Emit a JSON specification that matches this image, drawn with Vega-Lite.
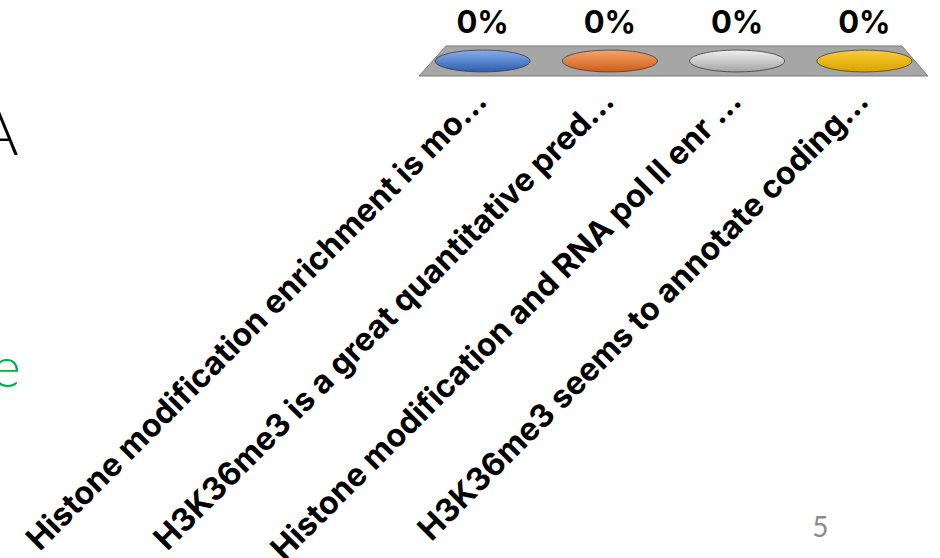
{
  "$schema": "https://vega.github.io/schema/vega-lite/v6.json",
  "width": 940,
  "height": 558,
  "autosize": {"type": "none"},
  "padding": 0,
  "background": "white",
  "config": {"view": {"stroke": null}},
  "datasets": {
    "poll": [
      {"option": 1, "label": "Histone modification enrichment is mo…", "pct": 0},
      {"option": 2, "label": "H3K36me3 is a great quantitative pred…", "pct": 0},
      {"option": 3, "label": "Histone modification and RNA pol II enr …", "pct": 0},
      {"option": 4, "label": "H3K36me3 seems to annotate coding…", "pct": 0}
    ]
  },
  "data": {"name": "poll"},
  "encoding": {
    "x": {"field": "option", "type": "ordinal", "scale": {"type": "band", "range": [419, 928], "paddingInner": 0, "paddingOuter": 0}, "axis": null},
    "y": {"field": "pct", "type": "quantitative", "scale": {"domain": [0, 1], "range": [61, 0]}, "axis": null}
  },
  "layer": [
    {
      "transform": [{"filter": "datum.option == 2"}],
      "mark": {"type": "point", "shape": "M -0.515 -0.0472 L 0.918 -0.0472 L 1 0.0472 L -0.600 0.0472 Z", "size": 404754, "filled": true, "fill": "#a6a6a6", "stroke": "#7a7a7a", "strokeWidth": 1, "opacity": 1}
    },
    {
      "mark": {"type": "point", "shape": "M -1 0 A 1 0.23 0 1 0 1 0 A 1 0.23 0 1 0 -1 0 Z", "size": 9025, "filled": true, "opacity": 1, "stroke": "#3c3c3c", "strokeWidth": 0.8},
      "encoding": {
        "fill": {
          "condition": [
            {"test": "datum.option == 1", "value": {"gradient": "linear", "x1": 0, "y1": 0, "x2": 0, "y2": 1, "stops": [{"offset": 0, "color": "#86b0f2"}, {"offset": 1, "color": "#2d5caa"}]}},
            {"test": "datum.option == 2", "value": {"gradient": "linear", "x1": 0, "y1": 0, "x2": 0, "y2": 1, "stops": [{"offset": 0, "color": "#f5a46a"}, {"offset": 1, "color": "#cf5d1a"}]}},
            {"test": "datum.option == 3", "value": {"gradient": "linear", "x1": 0, "y1": 0, "x2": 0, "y2": 1, "stops": [{"offset": 0, "color": "#f0f0f0"}, {"offset": 1, "color": "#a3a3a3"}]}}
          ],
          "value": {"gradient": "linear", "x1": 0, "y1": 0, "x2": 0, "y2": 1, "stops": [{"offset": 0, "color": "#f8cd35"}, {"offset": 1, "color": "#dba200"}]}
        }
      }
    },
    {
      "mark": {"type": "text", "font": "Inter", "fontWeight": "bold", "fontSize": 31, "align": "center", "baseline": "alphabetic", "dy": -28, "color": "#000000"},
      "encoding": {"text": {"field": "pct", "type": "quantitative", "format": ".0%"}}
    },
    {
      "mark": {"type": "text", "font": "Inter", "fontWeight": "bold", "fontSize": 32, "angle": 315, "align": "right", "baseline": "alphabetic", "dx": -25.5, "dy": 34, "color": "#000000"},
      "encoding": {"text": {"field": "label", "type": "nominal"}}
    },
    {
      "transform": [{"filter": "datum.option == 1"}],
      "mark": {"type": "text", "font": "Lato", "fontWeight": 300, "fontSize": 64, "align": "right", "baseline": "alphabetic", "dx": -464, "dy": 94, "color": "#000000", "text": "A"}
    },
    {
      "transform": [{"filter": "datum.option == 1"}],
      "mark": {"type": "text", "font": "Lato", "fontWeight": 300, "fontSize": 56, "align": "right", "baseline": "alphabetic", "dx": -462, "dy": 326, "color": "#00b050", "text": "e"}
    },
    {
      "transform": [{"filter": "datum.option == 4"}],
      "mark": {"type": "text", "font": "Lato", "fontWeight": 400, "fontSize": 28, "align": "center", "baseline": "alphabetic", "dx": -44, "dy": 476, "color": "#8c8c8c", "text": "5"}
    }
  ]
}
